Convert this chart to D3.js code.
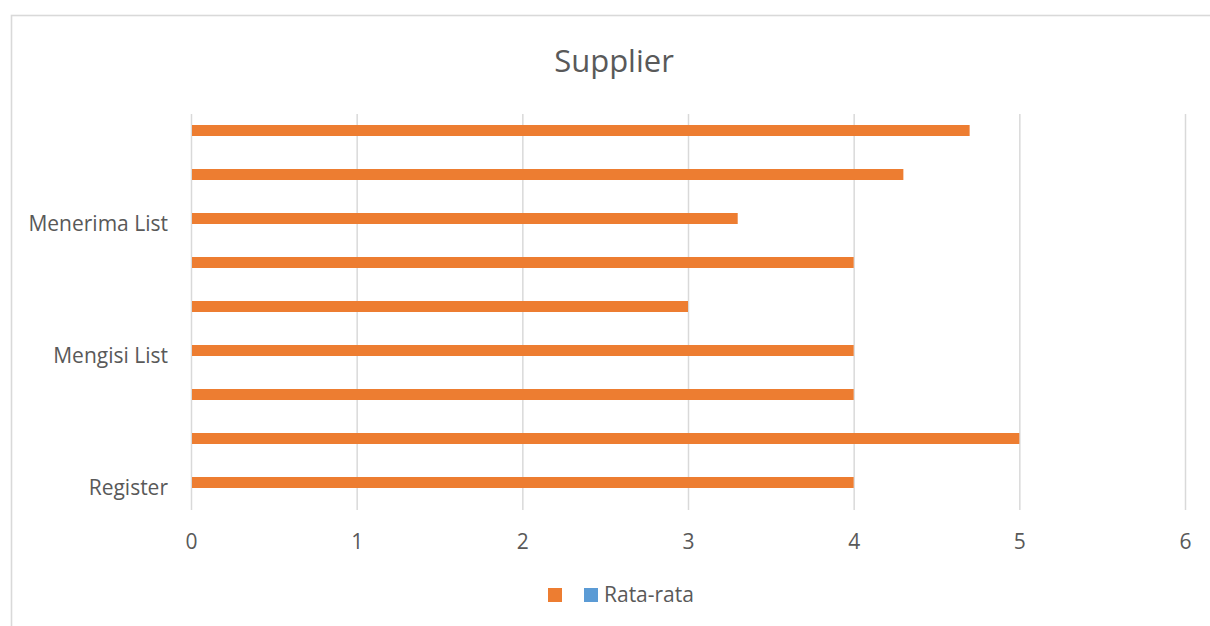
<!DOCTYPE html>
<html>
<head>
<meta charset="utf-8">
<script src="https://cdn.jsdelivr.net/npm/d3@7"></script>
<style>
  body { margin: 0; background: #fff; }
  svg { display: block; font-family: "Open Sans", sans-serif; }
</style>
</head>
<body>
<svg id="chart" width="1210" height="626"></svg>
<script>
// categories from bottom to top (only every third one carries a label)
const categories = ["Register", "", "", "Mengisi List", "", "", "Menerima List", "", ""];
// first series, no name in the legend (orange)
const seriesValues = [4, 5, 4, 4, 3, 4, 3.3, 4.3, 4.7];
// second series "Rata-rata" (blue) - no bars visible
const rataRata = [null, null, null, null, null, null, null, null, null];
const xTicks = [0, 1, 2, 3, 4, 5, 6];
const seriesNames = ["", "Rata-rata"];
const seriesColors = ["#ED7D31", "#5B9BD5"];

const svg = d3.select("#chart");
const margin = { left: 191, right: 25, top: 114, bottom: 116 };
const width = 1210 - margin.left - margin.right;
const height = 626 - margin.top - margin.bottom;
const textColor = "#595959";

// outer chart border
svg.append("rect")
    .attr("x", 11.5).attr("y", 15.5)
    .attr("width", 1300).attr("height", 700)
    .attr("fill", "none")
    .attr("stroke", "#d9d9d9")
    .attr("stroke-width", 1.6);

svg.append("text")
    .attr("x", 614)
    .attr("y", 72)
    .attr("text-anchor", "middle")
    .attr("fill", textColor)
    .style("font-size", "31px")
    .text("Supplier");

const g = svg.append("g").attr("transform", `translate(${margin.left},${margin.top})`);

const x = d3.scaleLinear().domain([0, 6]).range([0, width]);
const idx = d3.range(categories.length);
const y = d3.scaleBand().domain(idx.slice().reverse()).range([0, height]).padding(0);
const inner = d3.scaleBand().domain([0, 1]).range([0, y.bandwidth()])
    .paddingInner(0).paddingOuter(1);

// x axis with gridlines
const xAxis = g.append("g")
    .attr("transform", `translate(0,${height})`)
    .call(d3.axisBottom(x).tickValues(xTicks).tickSize(-height).tickPadding(24)
        .tickFormat(d3.format("d")));
xAxis.select(".domain").remove();
xAxis.selectAll("line").attr("stroke", "#d9d9d9").attr("stroke-width", 1.5);
xAxis.selectAll("text").attr("fill", textColor).style("font-size", "21px")
    .style("font-family", "'Open Sans', sans-serif");

// category axis
const yAxis = g.append("g")
    .call(d3.axisLeft(y).tickSize(0).tickPadding(23).tickFormat(i => categories[i]));
yAxis.select(".domain").remove();
yAxis.selectAll("text").attr("fill", textColor).style("font-size", "21px")
    .style("font-family", "'Open Sans', sans-serif");

const series = [seriesValues, rataRata];
series.forEach((vals, s) => {
    g.append("g").selectAll("rect")
        .data(vals.map((v, i) => ({ v, i })).filter(d => d.v != null))
        .enter().append("rect")
        .attr("x", x(0) + 1)
        .attr("y", d => y(d.i) + inner(s))
        .attr("width", d => x(d.v) - x(0) - 1)
        .attr("height", inner.bandwidth())
        .attr("fill", seriesColors[s]);
});

// legend
const legend = svg.append("g").attr("transform", "translate(548,588)");
const item = legend.selectAll("g").data(seriesNames).enter().append("g")
    .attr("transform", (d, i) => `translate(${i * 36},0)`);
item.append("rect").attr("width", 14).attr("height", 14)
    .attr("fill", (d, i) => seriesColors[i]);
item.append("text")
    .attr("x", 20).attr("y", 14)
    .attr("fill", textColor)
    .style("font-size", "21px")
    .text(d => d);
</script>
</body>
</html>
